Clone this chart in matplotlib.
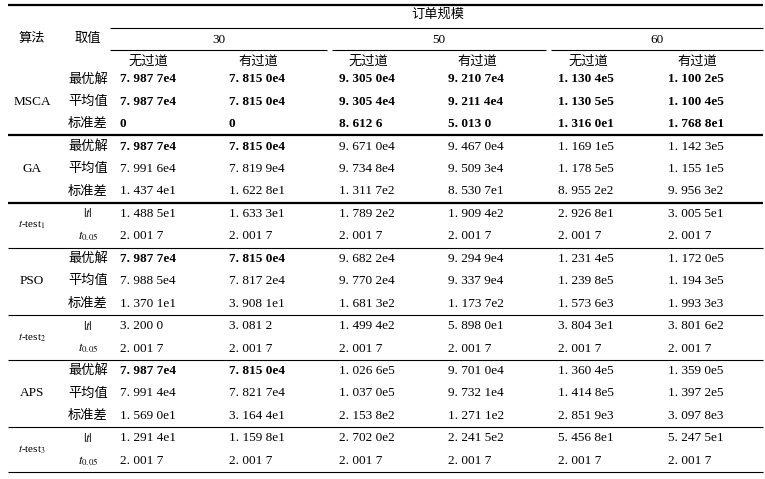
import matplotlib
matplotlib.use("Agg")
import matplotlib.pyplot as plt

plt.rcParams['font.family'] = ['Liberation Serif', 'Noto Sans CJK SC']
plt.rcParams['mathtext.fontset'] = 'stix'

# table content
scales = ['30', '50', '60']
aisle = ['无过道', '有过道']
groups = ['MSCA', 'GA', r'$t$-test$_1$', 'PSO', r'$t$-test$_2$', 'APS', r'$t$-test$_3$']
stat_labels = ['最优解', '平均值', '标准差']
test_labels = [r'$|t|$', r'$t_{0.05}$']

msca = [['7.987 7e4', '7.815 0e4', '9.305 0e4', '9.210 7e4', '1.130 4e5', '1.100 2e5'],
        ['7.987 7e4', '7.815 0e4', '9.305 4e4', '9.211 4e4', '1.130 5e5', '1.100 4e5'],
        ['0', '0', '8.612 6', '5.013 0', '1.316 0e1', '1.768 8e1']]
ga = [['7.987 7e4', '7.815 0e4', '9.671 0e4', '9.467 0e4', '1.169 1e5', '1.142 3e5'],
      ['7.991 6e4', '7.819 9e4', '9.734 8e4', '9.509 3e4', '1.178 5e5', '1.155 1e5'],
      ['1.437 4e1', '1.622 8e1', '1.311 7e2', '8.530 7e1', '8.955 2e2', '9.956 3e2']]
ttest1 = [['1.488 5e1', '1.633 3e1', '1.789 2e2', '1.909 4e2', '2.926 8e1', '3.005 5e1'],
          ['2.001 7'] * 6]
pso = [['7.987 7e4', '7.815 0e4', '9.682 2e4', '9.294 9e4', '1.231 4e5', '1.172 0e5'],
       ['7.988 5e4', '7.817 2e4', '9.770 2e4', '9.337 9e4', '1.239 8e5', '1.194 3e5'],
       ['1.370 1e1', '3.908 1e1', '1.681 3e2', '1.173 7e2', '1.573 6e3', '1.993 3e3']]
ttest2 = [['3.200 0', '3.081 2', '1.499 4e2', '5.898 0e1', '3.804 3e1', '3.801 6e2'],
          ['2.001 7'] * 6]
aps = [['7.987 7e4', '7.815 0e4', '1.026 6e5', '9.701 0e4', '1.360 4e5', '1.359 0e5'],
       ['7.991 4e4', '7.821 7e4', '1.037 0e5', '9.732 1e4', '1.414 8e5', '1.397 2e5'],
       ['1.569 0e1', '3.164 4e1', '2.153 8e2', '1.271 1e2', '2.851 9e3', '3.097 8e3']]
ttest3 = [['1.291 4e1', '1.159 8e1', '2.702 0e2', '2.241 5e2', '5.456 8e1', '5.247 5e1'],
          ['2.001 7'] * 6]
blocks = [msca, ga, ttest1, pso, ttest2, aps, ttest3]

W, H = 765, 479
fig = plt.figure(figsize=(W / 100, H / 100), dpi=100)
ax = fig.add_axes([0, 0, 1, 1])
ax.set_xlim(0, W)
ax.set_ylim(H, 0)
ax.axis('off')

fs = 9.5
x0, x1 = 8, 763
col_name_x = 32
col_stat_x = 88
col_left = [120, 229, 339, 448, 558, 668]
col_center = [148, 258, 368, 477, 588, 697]
span_left = [110, 332, 551]
span_right = [327, 546, 763]

# header
ax.hlines(5, x0, x1, color='black', lw=1.6)
ax.text(438, 15, '订单规模', ha='center', va='center', fontsize=fs)
ax.hlines(28, 110, x1, color='black', lw=0.8)
ax.text(col_name_x, 39, '算法', ha='center', va='center', fontsize=fs)
ax.text(col_stat_x, 39, '取值', ha='center', va='center', fontsize=fs)
for i, s in enumerate(scales):
    ax.text((span_left[i] + span_right[i]) / 2, 40, s, ha='center', va='center', fontsize=fs)
    ax.hlines(50, span_left[i], span_right[i], color='black', lw=0.8)
    for j, a in enumerate(aisle):
        ax.text(col_center[2 * i + j], 62, a, ha='center', va='center', fontsize=fs)

# body
y = 68.0
pitch = (472 - y) / 18
for g, (name, rows) in enumerate(zip(groups, blocks)):
    is_test = name.startswith('$t$')
    labels = test_labels if is_test else stat_labels
    top = y
    for r, vals in enumerate(rows):
        yc = y + pitch / 2
        ax.text(col_stat_x, yc, labels[r], ha='center', va='center',
                fontsize=fs if not is_test else fs - 0.5)
        for c, v in enumerate(vals):
            bold = (g == 0) or (not is_test and r == 0 and c < 2)
            ax.text(col_left[c], yc, v.replace('.', '. '), ha='left', va='center',
                    fontsize=fs, fontweight='bold' if bold else 'normal')
        y += pitch
    ax.text(col_name_x, (top + y) / 2, name, ha='center', va='center',
            fontsize=fs - 1.5 if is_test else fs)
    ax.hlines(y, x0, x1, color='black', lw=1.6 if g in (0, 1) else 0.8)

fig.savefig('out.png', dpi=100)
